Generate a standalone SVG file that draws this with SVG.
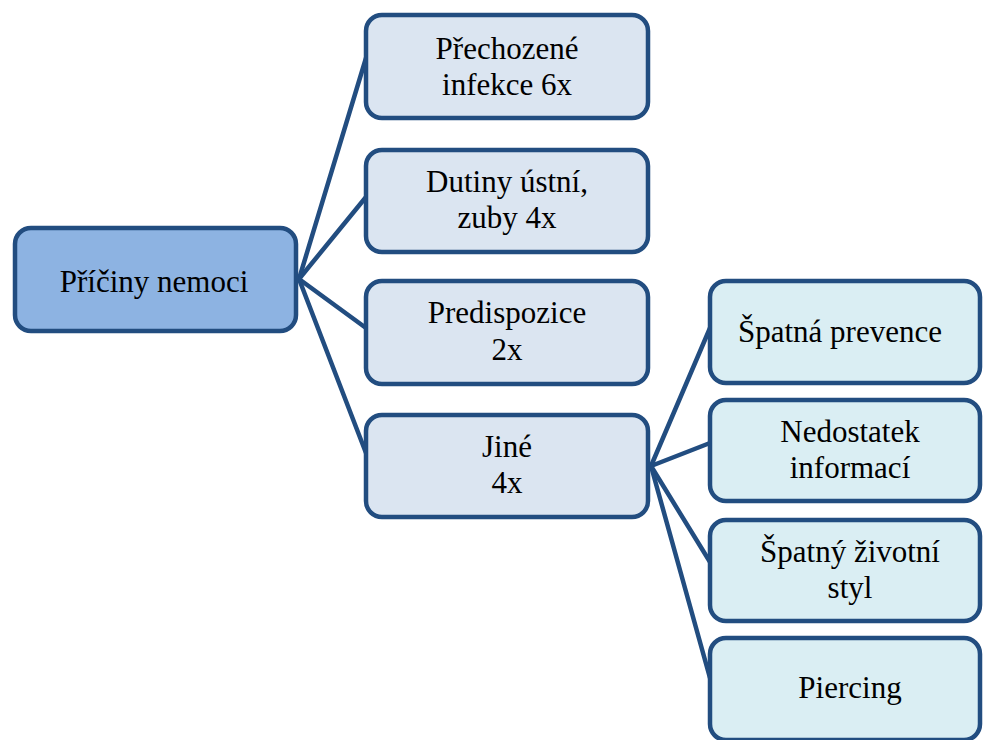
<svg xmlns="http://www.w3.org/2000/svg" width="983" height="740" viewBox="0 0 983 740">
  <style>
    .box { stroke: #224d80; stroke-width: 4.5; }
    .root { fill: #8db3e2; }
    .lvl1 { fill: #dbe5f1; }
    .lvl2 { fill: #daeef3; }
    text { font-family: 'Liberation Serif', 'DejaVu Serif', serif; font-size: 31px; fill: #000; text-anchor: middle; }
    .conn line { stroke: #224d80; stroke-width: 4.5; stroke-linecap: round; }
  </style>
  <rect width="983" height="740" fill="#ffffff"/>

  <!-- connectors -->
  <g id="connectors" class="conn">
    <line x1="299" y1="279" x2="366" y2="58"/>
    <line x1="299" y1="279" x2="366" y2="197"/>
    <line x1="299" y1="279" x2="366" y2="328"/>
    <line x1="299" y1="279" x2="366" y2="453"/>
    <line x1="651" y1="466" x2="710" y2="328"/>
    <line x1="651" y1="466" x2="710" y2="443"/>
    <line x1="651" y1="466" x2="710" y2="562"/>
    <line x1="651" y1="466" x2="710" y2="678"/>
  </g>

  <!-- root -->
  <g id="priciny">
    <rect class="box root" x="15" y="228" width="281" height="103" rx="16"/>
    <text x="154" y="292">Příčiny nemoci</text>
  </g>

  <!-- first level -->
  <g id="prechozene">
    <rect class="box lvl1" x="366" y="15" width="282" height="103" rx="16"/>
    <text x="507" y="59">Přechozené</text>
    <text x="507" y="95">infekce 6x</text>
  </g>
  <g id="dutiny">
    <rect class="box lvl1" x="366" y="150" width="282" height="102" rx="16"/>
    <text x="507" y="192">Dutiny ústní,</text>
    <text x="507" y="228">zuby 4x</text>
  </g>
  <g id="predispozice">
    <rect class="box lvl1" x="366" y="281" width="282" height="103" rx="16"/>
    <text x="507" y="323">Predispozice</text>
    <text x="507" y="360">2x</text>
  </g>
  <g id="jine">
    <rect class="box lvl1" x="366" y="415" width="282" height="102" rx="16"/>
    <text x="507" y="457">Jiné</text>
    <text x="507" y="493">4x</text>
  </g>

  <!-- second level -->
  <g id="prevence">
    <rect class="box lvl2" x="710" y="281" width="270" height="102" rx="16"/>
    <text x="840" y="342">Špatná prevence</text>
  </g>
  <g id="informace">
    <rect class="box lvl2" x="710" y="400" width="270" height="101" rx="16"/>
    <text x="850" y="442">Nedostatek</text>
    <text x="850" y="478">informací</text>
  </g>
  <g id="styl">
    <rect class="box lvl2" x="710" y="520" width="270" height="101" rx="16"/>
    <text x="850" y="562">Špatný životní</text>
    <text x="850" y="598">styl</text>
  </g>
  <g id="piercing">
    <rect class="box lvl2" x="710" y="638" width="270" height="102" rx="16"/>
    <text x="850" y="698">Piercing</text>
  </g>
</svg>
